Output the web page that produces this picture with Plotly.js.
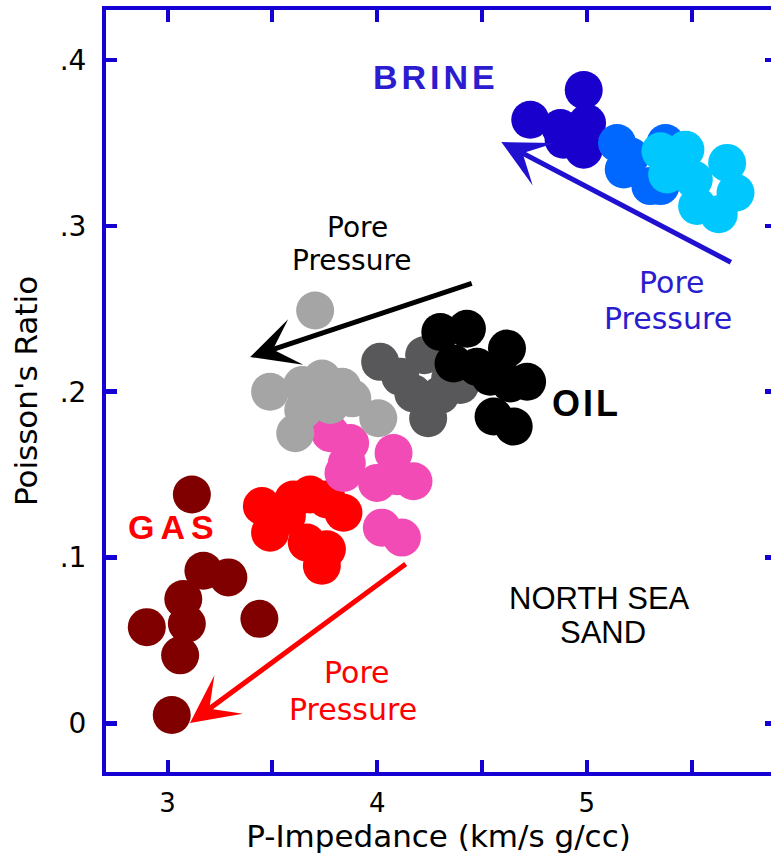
<!DOCTYPE html>
<html>
<head>
<meta charset="utf-8">
<script src="https://cdn.plot.ly/plotly-3.0.1.min.js"></script>
<style>
html,body{margin:0;padding:0;background:#fff;}
#chart{width:771px;height:859px;}
</style>
</head>
<body>
<div id="chart"></div>
<script>
// ---- data ----
const gasX = [3.116, 3.171, 3.290, 3.075, 2.901, 3.092, 3.060, 3.438, 3.020];
const gasY = [0.138, 0.092, 0.088, 0.075, 0.058, 0.060, 0.041, 0.063, 0.005];

const redX = [3.450, 3.489, 3.600, 3.680, 3.760, 3.839, 3.664, 3.760, 3.736, 3.569];
const redY = [0.131, 0.115, 0.135, 0.138, 0.135, 0.127, 0.109, 0.105, 0.095, 0.125];

const darkGreyX = [4.014, 4.224, 4.110, 4.172, 4.243, 4.348, 4.396, 4.301];
const darkGreyY = [0.218, 0.222, 0.209, 0.199, 0.184, 0.208, 0.204, 0.198];

const oilX = [4.301, 4.428, 4.364, 4.619, 4.539, 4.715, 4.635, 4.555, 4.651, 4.476];
const oilY = [0.236, 0.238, 0.217, 0.226, 0.209, 0.206, 0.205, 0.185, 0.179, 0.215];

const pinkX = [3.776, 3.871, 3.855, 4.078, 3.999, 4.173, 4.094, 4.022, 4.118, 3.839];
const pinkY = [0.175, 0.169, 0.157, 0.163, 0.145, 0.146, 0.149, 0.118, 0.112, 0.151];

const lightGreyX = [3.489, 3.642, 3.737, 3.833, 3.881, 4.005, 3.609, 3.647, 3.776, 3.704];
const lightGreyY = [0.200, 0.204, 0.208, 0.203, 0.196, 0.184, 0.175, 0.189, 0.192, 0.249];

const brineX = [4.985, 4.730, 4.874, 5.001, 4.985, 4.889];
const brineY = [0.382, 0.364, 0.359, 0.362, 0.346, 0.352];

const midBlueX = [5.144, 5.208, 5.176, 5.351, 5.375, 5.303];
const midBlueY = [0.350, 0.342, 0.334, 0.324, 0.350, 0.324];

const lightBlueX = [5.351, 5.470, 5.383, 5.669, 5.709, 5.629, 5.526, 5.510];
const lightBlueY = [0.345, 0.346, 0.331, 0.338, 0.320, 0.307, 0.312, 0.328];

const xTickVals = [3, 3.5, 4, 4.5, 5, 5.5];
const xTickText = ['3', '', '4', '', '5', ''];
const yTickVals = [0, 0.1, 0.2, 0.3, 0.4];
const yTickText = ['0', '.1', '.2', '.3', '.4'];

// ---- styles ----
const AXIS_BLUE = '#1400d2';
const MS = 38;

function cloud(x, y, color) {
  return {type: 'scatter', mode: 'markers', x: x, y: y, hoverinfo: 'skip',
          showlegend: false, marker: {size: MS, color: color, line: {width: 0}}};
}

const traces = [
  cloud(gasX, gasY, '#800000'),
  cloud(redX, redY, '#ff0000'),
  cloud(darkGreyX, darkGreyY, '#58585a'),
  cloud(oilX, oilY, '#000000'),
  cloud(pinkX, pinkY, '#f34bb6'),
  cloud(lightGreyX, lightGreyY, '#a5a5a5'),
  cloud(brineX, brineY, '#1a00cc'),
  cloud(midBlueX, midBlueY, '#0068ff'),
  cloud(lightBlueX, lightBlueY, '#00c8ff'),
  {type: 'scatter', mode: 'markers', x: [null], y: [null], yaxis: 'y2',
   hoverinfo: 'skip', showlegend: false}
];

const xRange = [2.7064, 5.8783];
const yRange = [-0.02937, 0.43022];

function label(text, x, y, size, color, family) {
  return {text: text, x: x, y: y, xref: 'x', yref: 'y', showarrow: false,
          xanchor: 'center', yanchor: 'middle',
          font: {family: family || 'DejaVu Sans', size: size, color: color}};
}
function arrow(x, y, ax, ay, color) {
  return {text: '', x: x, y: y, ax: ax, ay: ay, xref: 'x', yref: 'y',
          axref: 'x', ayref: 'y', showarrow: true, arrowhead: 3,
          arrowsize: 1.6, arrowwidth: 5, arrowcolor: color, standoff: 0};
}

const bold = 'Liberation Sans';
const annotations = [
  label('<b><span style="letter-spacing:4px">BRINE</span></b>', 4.2816, 0.3898, 34, '#2b1ccf', bold),
  label('<b><span style="letter-spacing:6px">GAS</span></b>', 3.0286, 0.1181, 34, '#ff0000', bold),
  label('<b><span style="letter-spacing:3px">OIL</span></b>', 5.0000, 0.1926, 36, '#000000', bold),
  label('NORTH SEA', 5.0597, 0.0753, 31, '#000000', 'Liberation Sans'),
  label('SAND', 5.0788, 0.0548, 31, '#000000', 'Liberation Sans'),
  label('Pore', 3.9045, 0.2990, 28, '#000000'),
  label('Pressure', 3.8807, 0.2790, 28, '#000000'),
  label('Pore', 5.4081, 0.2659, 30, '#2b1ccf'),
  label('Pressure', 5.3890, 0.2442, 30, '#2b1ccf'),
  label('Pore', 3.9045, 0.0306, 30, '#ff0000'),
  label('Pressure', 3.8854, 0.0086, 30, '#ff0000'),
  arrow(3.394, 0.2209, 4.458, 0.2656, '#000000'),
  arrow(4.592, 0.3506, 5.694, 0.2776, '#2010d0'),
  arrow(3.107, 0.0002, 4.143, 0.0967, '#ff0000')
];

const layout = {
  width: 771, height: 859,
  margin: {l: 106, r: 0, t: 10, b: 87, pad: 0},
  paper_bgcolor: '#ffffff', plot_bgcolor: '#ffffff',
  showlegend: false,
  xaxis: {
    range: xRange, showgrid: false, zeroline: false,
    showline: true, linecolor: AXIS_BLUE, linewidth: 4, mirror: 'ticks',
    ticks: 'inside', ticklen: 12, tickwidth: 4, tickcolor: AXIS_BLUE,
    tickmode: 'array', tickvals: xTickVals, ticktext: xTickText,
    ticklabelstandoff: 5,
    tickfont: {family: 'DejaVu Sans', size: 26, color: '#000'},
    title: {text: 'P-Impedance (km/s g/cc)', standoff: 8,
            font: {family: 'DejaVu Sans', size: 31, color: '#000'}}
  },
  yaxis: {
    range: yRange, showgrid: false, zeroline: false,
    showline: true, linecolor: AXIS_BLUE, linewidth: 4,
    ticks: 'inside', ticklen: 11, tickwidth: 4.5, tickcolor: AXIS_BLUE,
    tickmode: 'array', tickvals: yTickVals, ticktext: yTickText,
    ticklabelstandoff: 10,
    tickfont: {family: 'DejaVu Sans', size: 28, color: '#000'},
    title: {text: "Poisson's Ratio", standoff: 14,
            font: {family: 'DejaVu Sans', size: 31, color: '#000'}}
  },
  yaxis2: {
    overlaying: 'y', side: 'right', range: yRange,
    showgrid: false, zeroline: false, showline: false, showticklabels: false,
    ticks: 'inside', ticklen: 6, tickwidth: 4.5, tickcolor: AXIS_BLUE,
    tickmode: 'array', tickvals: yTickVals
  },
  annotations: annotations
};

Plotly.newPlot('chart', traces, layout, {staticPlot: true, displayModeBar: false});
</script>
</body>
</html>
